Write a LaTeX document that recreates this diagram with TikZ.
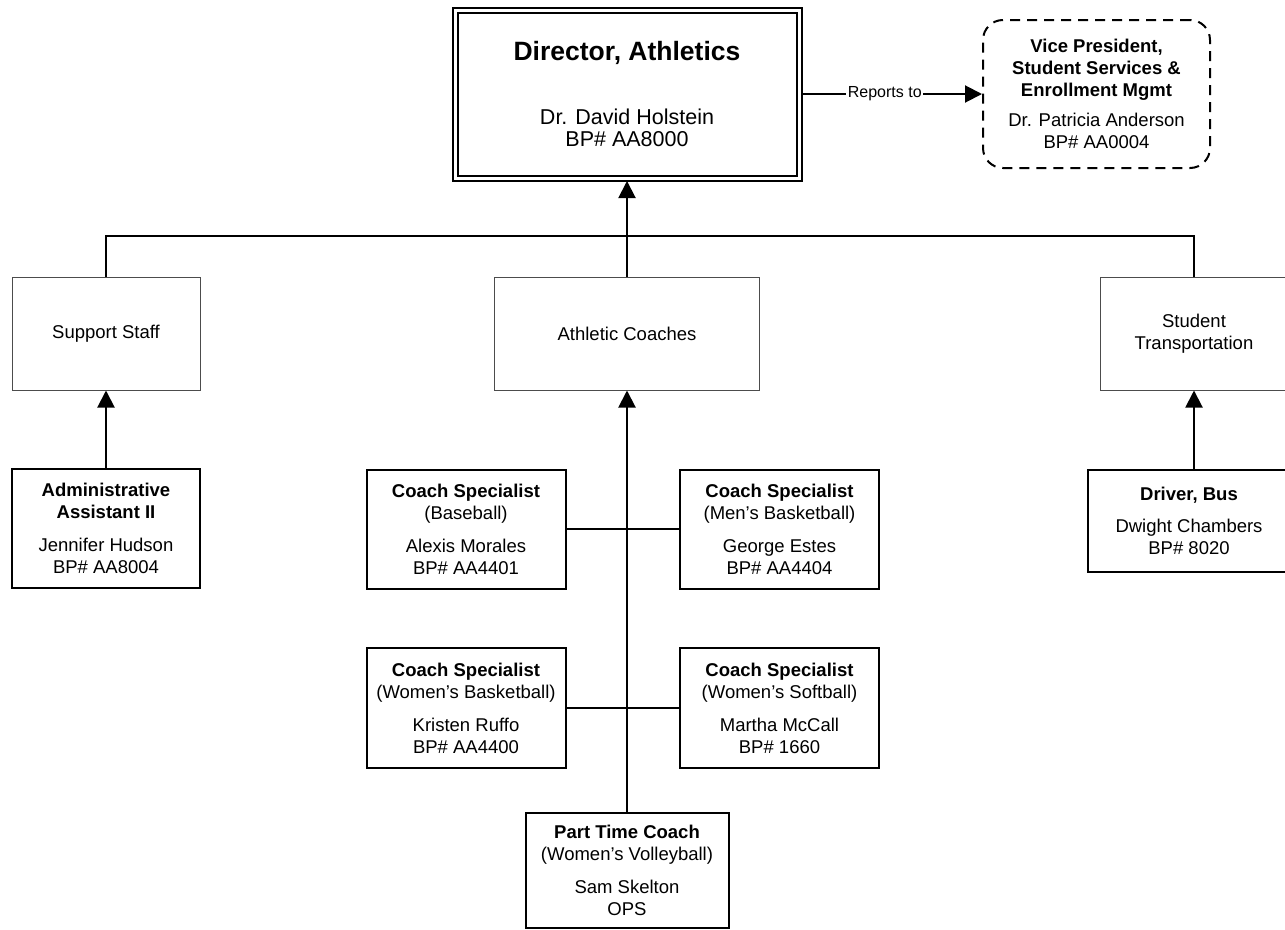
\documentclass[tikz,border=0pt]{standalone}
\usepackage{fontspec}
\setmainfont{Liberation Sans}
\usetikzlibrary{arrows.meta}

\begin{document}
\begin{tikzpicture}[x=1pt,y=-1pt,every node/.style={shape=rectangle,align=center,inner sep=0pt,font=\fontsize{18.5}{22}\selectfont},
    unit/.style={draw,line width=2pt},
    group/.style={draw=black!70,line width=1pt},
    link/.style={line width=2pt},
    up/.style={link,-{Triangle[length=17pt,width=17pt]}}]
      \useasboundingbox (0,0) rectangle (1285,929);
      \node[draw,double,double distance=3pt,line width=2pt,outer sep=3pt,minimum width=344pt,minimum height=168pt,font=\fontsize{21.5}{22}\selectfont] (dir) at (627,94)
        {{\fontsize{26.5}{30}\selectfont\bfseries Director, Athletics}\\[42pt]
         Dr. David Holstein\\BP\# AA8000};
      \node[draw,dashed,dash pattern=on 10pt off 7pt,line width=2pt,rounded corners=20pt,minimum width=227pt,minimum height=148pt] (vp) at (1096.5,94)
        {\textbf{Vice President,}\\\textbf{Student Services \&}\\\textbf{Enrollment Mgmt}\\[8pt]
         Dr. Patricia Anderson\\BP\# AA0004};
      \node[group,minimum width=188pt,minimum height=113pt] (sup) at (106,333.5) {Support Staff};
      \node[group,minimum width=265pt,minimum height=113pt] (coaches) at (627,333.5) {Athletic Coaches};
      \node[group,minimum width=188pt,minimum height=113pt] (trans) at (1194,333.5) {Student\\Transportation};
      \node[unit,minimum width=188pt,minimum height=119pt] (admin) at (106,528.5)
        {\textbf{Administrative}\\\textbf{Assistant II}\\[11pt] Jennifer Hudson\\BP\# AA8004};
      \node[unit,minimum width=199pt,minimum height=119pt] (base) at (466,529)
        {\textbf{Coach Specialist}\\(Baseball)\\[11pt] Alexis Morales\\BP\# AA4401};
      \node[unit,minimum width=199pt,minimum height=119pt] (mbb) at (779.5,529)
        {\textbf{Coach Specialist}\\(Men’s Basketball)\\[11pt] George Estes\\BP\# AA4404};
      \node[unit,minimum width=199pt,minimum height=120pt] (wbb) at (466,708)
        {\textbf{Coach Specialist}\\(Women’s Basketball)\\[11pt] Kristen Ruffo\\BP\# AA4400};
      \node[unit,minimum width=199pt,minimum height=120pt] (soft) at (779.5,708)
        {\textbf{Coach Specialist}\\(Women’s Softball)\\[11pt] Martha McCall\\BP\# 1660};
      \node[unit,minimum width=203pt,minimum height=115pt] (part) at (627,870.5)
        {\textbf{Part Time Coach}\\(Women’s Volleyball)\\[11pt] Sam Skelton\\OPS};
      \node[unit,minimum width=202pt,minimum height=102pt] (driver) at (1189,521)
        {\textbf{Driver, Bus}\\[10pt] Dwight Chambers\\BP\# 8020};
      \coordinate (bus) at (627,236);
      \draw[up] (dir.east) -- node[pos=0.46,fill=white,inner xsep=1.5pt,inner ysep=2pt,font=\fontsize{16}{19}\selectfont] (rep) {Reports to} (vp.west);
      \draw[link] (sup.north) |- (bus) -| (trans.north);
      \draw[up] (coaches.north) -- (dir.south);
      \draw[up] (admin.north) -- (sup.south);
      \draw[up] (driver.north -| trans.south) -- (trans.south);
      \draw[up] (part.north) -- (coaches.south);
      \draw[link] (base.east) -- (mbb.west);
      \draw[link] (wbb.east) -- (soft.west);
\end{tikzpicture}
\end{document}
